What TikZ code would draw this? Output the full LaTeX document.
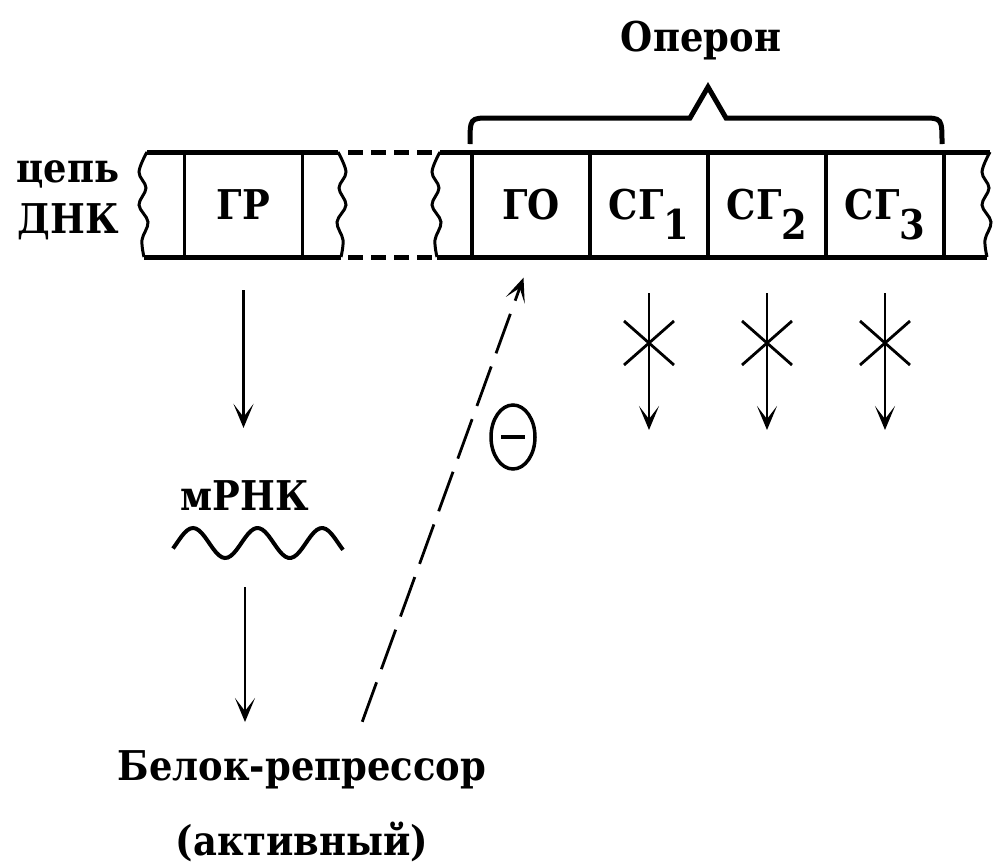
\documentclass[tikz,border=0pt]{standalone}
\usepackage{fontspec}
\usetikzlibrary{calc}
\usetikzlibrary{positioning}
\usetikzlibrary{arrows.meta}
\usetikzlibrary{shapes.geometric}
\newfontfamily\dnafont[FakeStretch=0.9]{DejaVu Serif}
\newcommand{\gsub}[1]{\raisebox{-20pt}{#1}}
\newcommand{\tornedge}[3]{
    \pgfmathsetmacro{\ea}{#1}
    \pgfmathsetmacro{\eb}{#1-8*#2}
    \pgfmathsetmacro{\ec}{#1-1*#2}
    \pgfmathsetmacro{\ed}{#1+1*#2}
    \pgfmathsetmacro{\ee}{#1-5*#2}
    \pgfmathsetmacro{\ef}{#1-3*#2}
    \draw[#3] plot[smooth, tension=0.6] coordinates {(\ea, 152) (\eb, 172) (\ec, 188) (\eb, 205) (\ed, 222) (\ee, 240) (\ef, 257)};
}

\begin{document}
\begin{tikzpicture}[x=1pt, y=-1pt,
    lbl/.style={font=\dnafont\bfseries\fontsize{41}{75}\selectfont, inner sep=0pt},
    gene/.style={lbl, draw, line width=3.5pt, minimum width=118pt, minimum height=105pt, outer sep=0pt, text height=29pt, text depth=0pt},
    strand/.style={line width=5pt},
    torn/.style={line width=3pt},
    arr/.style={line width=2.8pt, -{Stealth[length=24pt, width=20pt, inset=13pt]}}]
                \fill[white] (0,0) rectangle (1006,867);
                \useasboundingbox (0,0) rectangle (1006,867);
                \draw[strand] (147,152) -- (338,152) (144,257) -- (341,257);
                \draw[strand, dash pattern=on 15pt off 8pt] (348,152) -- (436,152) (348,257) -- (436,257);
                \draw[strand] (440,152) -- (990,152) (437,257) -- (987,257);
                \tornedge{147}{1}{torn}
                \tornedge{338}{-1}{torn}
                \tornedge{440}{1}{torn}
                \tornedge{990}{1}{torn}
                \node[gene] (gr) at (243.5,204.5) {ГР};
                \node[gene] (go) at (531,204.5) {ГО};
                \node[gene, right=0pt of go] (sg1) {СГ\gsub{1}};
                \node[gene, right=0pt of sg1] (sg2) {СГ\gsub{2}};
                \node[gene, right=0pt of sg2] (sg3) {СГ\gsub{3}};
                \draw[strand] (470,144) .. controls (470,118) .. (490,118) -- (690,118) -- (708,87) -- (726,118) -- (922,118) .. controls (942,118) .. (942,144);
                \node[lbl, anchor=base] (operon) at (701,52) {Оперон};
                \node[lbl, align=center, anchor=north, font=\dnafont\bfseries\fontsize{41}{51}\selectfont] (chain) at (68,160) {цепь\\ДНК};
                \node[lbl, anchor=base] (mrna) at (245,510) {мРНК};
                \node[lbl, align=center, anchor=north] (rep) at (302,750) {Белок-репрессор\\(активный)};
                \draw[line width=4pt] plot[domain=173:343, samples=60] (\x, {543-15*cos((\x-193)*5.58)});
                \draw[arr, shorten <=33pt, shorten >=52pt] (gr.south) -- (gr.south |- mrna.north);
                \draw[arr, shorten <=77pt, shorten >=28pt] (mrna.south) -- (mrna.south |- rep.north);
                \draw[arr, dash pattern=on 42pt off 14pt, shorten <=30pt, shorten >=22pt] ([xshift=50pt]rep.north) -- (go.south);
                \node[ellipse, draw, line width=3.5pt, minimum width=44pt, minimum height=64pt, inner sep=0pt] (ominus) at (513,437) {\rule{24pt}{4pt}};
                \foreach \g in {sg1, sg2, sg3} {
                    \path (\g.south) ++(0,173) coordinate (\g-tip);
                    \draw[arr, shorten <=36pt] (\g.south) -- (\g-tip);
                    \draw[line width=2.8pt] ([yshift=-86pt]\g.south) +(-25,-22) -- +(25,22) +(25,-22) -- +(-25,22);
                }
            \end{tikzpicture}
\end{document}
